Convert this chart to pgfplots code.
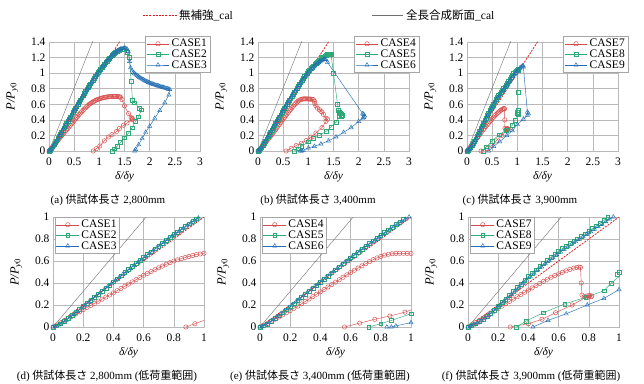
\documentclass[border=0pt]{standalone}
\usepackage{fontspec}
\setmainfont{Liberation Serif}
\newfontfamily\cjk{Noto Sans CJK JP}
\usepackage{pgfplots}
\pgfplotsset{compat=1.18}
\usepackage{pgfplotstable}

\definecolor{cred}{RGB}{215,75,75}
\definecolor{cgreen}{RGB}{45,170,120}
\definecolor{cblue}{RGB}{35,110,180}
\definecolor{refred}{RGB}{220,30,30}
\definecolor{refgray}{RGB}{110,110,110}

\pgfplotstableread{
x y
0 0
0.025 0.018
0.05 0.038
0.075 0.058
0.1 0.078
0.125 0.098
0.15 0.118
0.175 0.138
0.2 0.158
0.225 0.177
0.25 0.196
0.275 0.215
0.3 0.234
0.325 0.253
0.35 0.272
0.375 0.291
0.4 0.310
0.425 0.330
0.45 0.350
0.475 0.370
0.5 0.390
0.525 0.410
0.55 0.430
0.575 0.450
0.6 0.470
0.625 0.487
0.65 0.504
0.675 0.521
0.7 0.538
0.725 0.554
0.75 0.570
0.775 0.585
0.8 0.600
0.825 0.611
0.85 0.622
0.875 0.632
0.9 0.641
0.925 0.650
0.95 0.658
0.975 0.664
1.0 0.670
1.025 0.675
1.05 0.680
1.075 0.684
1.1 0.688
1.125 0.691
1.15 0.694
1.175 0.696
1.2 0.698
1.225 0.700
1.25 0.701
1.275 0.702
1.3 0.702
1.325 0.701
1.35 0.700
1.375 0.699
1.4 0.697
1.42 0.690
1.45 0.660
1.5 0.580
1.58 0.480
1.63 0.430
1.65 0.420
1.66 0.410
1.65 0.400
1.55 0.360
1.48 0.330
1.40 0.290
1.34 0.250
1.25 0.210
1.18 0.180
1.10 0.130
1.01 0.065
0.94 0.030
0.88 0.0
}\tA

\pgfplotstableread{
x y
0 0
0.025 0.012
0.05 0.030
0.075 0.055
0.1 0.080
0.125 0.105
0.15 0.133
0.175 0.160
0.2 0.188
0.225 0.215
0.25 0.243
0.275 0.271
0.3 0.299
0.325 0.327
0.35 0.355
0.375 0.383
0.4 0.411
0.425 0.439
0.45 0.467
0.475 0.495
0.5 0.523
0.525 0.550
0.55 0.578
0.575 0.605
0.6 0.632
0.625 0.659
0.65 0.685
0.675 0.711
0.7 0.737
0.725 0.763
0.75 0.789
0.775 0.815
0.8 0.840
0.825 0.865
0.85 0.890
0.875 0.914
0.9 0.938
0.925 0.962
0.95 0.985
0.975 1.008
1.0 1.030
1.025 1.052
1.05 1.074
1.075 1.095
1.1 1.116
1.125 1.136
1.15 1.156
1.175 1.175
1.2 1.193
1.225 1.210
1.25 1.226
1.275 1.241
1.3 1.255
1.325 1.268
1.35 1.279
1.375 1.289
1.4 1.297
1.425 1.303
1.45 1.307
1.5 1.300
1.55 1.270
1.6 1.200
1.63 0.900
1.66 0.650
1.7 0.620
1.8 0.550
1.84 0.530
1.78 0.440
1.72 0.380
1.65 0.300
1.58 0.230
1.5 0.170
1.42 0.110
1.35 0.060
1.3 0.030
1.25 0.0
}\tB

\pgfplotstableread{
x y
0 0
0.0125 0.005
0.0375 0.018
0.0625 0.038
0.0875 0.062
0.1125 0.088
0.1375 0.114
0.1625 0.142
0.1875 0.170
0.2125 0.198
0.2375 0.226
0.2625 0.254
0.2875 0.282
0.3125 0.310
0.3375 0.338
0.3625 0.366
0.3875 0.394
0.4125 0.422
0.4375 0.450
0.4625 0.478
0.4875 0.506
0.5125 0.533
0.5375 0.560
0.5625 0.587
0.5875 0.614
0.6125 0.641
0.6375 0.668
0.6625 0.694
0.6875 0.720
0.7125 0.746
0.7375 0.772
0.7625 0.797
0.7875 0.822
0.8125 0.847
0.8375 0.872
0.8625 0.897
0.8875 0.921
0.9125 0.945
0.9375 0.968
0.9625 0.991
0.9875 1.014
1.0125 1.036
1.05 1.069
1.075 1.090
1.1 1.111
1.125 1.132
1.15 1.152
1.175 1.171
1.2 1.190
1.225 1.208
1.25 1.225
1.275 1.241
1.3 1.256
1.325 1.270
1.35 1.283
1.375 1.294
1.4 1.303
1.425 1.310
1.45 1.315
1.475 1.318
1.5 1.320
1.525 1.318
1.55 1.310
1.575 1.280
1.6 1.150
1.62 1.070
1.65 1.030
1.675 1.010
1.7 0.995
1.725 0.982
1.75 0.970
1.775 0.957
1.8 0.945
1.825 0.935
1.85 0.925
1.875 0.915
1.9 0.906
1.925 0.898
1.95 0.890
1.975 0.882
2.0 0.875
2.025 0.868
2.05 0.862
2.075 0.856
2.1 0.850
2.125 0.845
2.15 0.840
2.175 0.835
2.2 0.830
2.225 0.825
2.25 0.820
2.275 0.815
2.3 0.810
2.325 0.805
2.35 0.800
2.375 0.795
2.4 0.790
2.38 0.720
2.3 0.620
2.2 0.520
2.1 0.420
2.0 0.320
1.92 0.240
1.85 0.160
1.78 0.080
1.72 0.020
1.7 0.0
}\tC

\pgfplotstableread{
x y
0 0
0.025 0.015
0.05 0.033
0.075 0.052
0.1 0.071
0.125 0.090
0.15 0.110
0.175 0.130
0.2 0.150
0.225 0.170
0.25 0.190
0.275 0.210
0.3 0.232
0.325 0.254
0.35 0.276
0.375 0.298
0.4 0.320
0.425 0.342
0.45 0.364
0.475 0.386
0.5 0.408
0.525 0.430
0.55 0.452
0.575 0.474
0.6 0.495
0.625 0.516
0.65 0.536
0.675 0.556
0.7 0.575
0.725 0.594
0.75 0.612
0.775 0.628
0.8 0.642
0.825 0.653
0.85 0.661
0.875 0.666
0.9 0.669
0.925 0.670
0.95 0.670
0.975 0.669
1.0 0.668
1.025 0.667
1.05 0.666
1.075 0.664
1.1 0.660
1.12 0.640
1.13 0.610
1.15 0.580
1.18 0.550
1.22 0.530
1.25 0.510
1.27 0.500
1.3 0.470
1.35 0.420
1.38 0.410
1.35 0.380
1.27 0.300
1.15 0.230
1.05 0.180
0.96 0.135
0.86 0.100
0.76 0.070
0.66 0.035
0.56 0.0
}\tD

\pgfplotstableread{
x y
0 0
0.025 0.011
0.05 0.028
0.075 0.052
0.1 0.077
0.125 0.103
0.15 0.130
0.175 0.157
0.2 0.184
0.225 0.212
0.25 0.240
0.275 0.268
0.3 0.297
0.325 0.325
0.35 0.353
0.375 0.381
0.4 0.409
0.425 0.437
0.45 0.465
0.475 0.493
0.5 0.521
0.525 0.548
0.55 0.575
0.575 0.602
0.6 0.629
0.625 0.655
0.65 0.681
0.675 0.707
0.7 0.733
0.725 0.759
0.75 0.784
0.775 0.809
0.8 0.834
0.825 0.859
0.85 0.884
0.875 0.908
0.9 0.932
0.925 0.956
0.95 0.979
0.975 1.002
1.0 1.022
1.025 1.041
1.05 1.059
1.075 1.077
1.1 1.094
1.125 1.111
1.15 1.127
1.175 1.143
1.2 1.158
1.225 1.173
1.25 1.187
1.275 1.200
1.3 1.212
1.325 1.223
1.35 1.233
1.375 1.241
1.4 1.246
1.42 1.248
1.44 1.245
1.45 1.240
1.5 1.000
1.58 0.600
1.6 0.520
1.62 0.500
1.64 0.490
1.66 0.480
1.67 0.460
1.65 0.450
1.62 0.440
1.55 0.370
1.45 0.310
1.35 0.250
1.22 0.200
1.1 0.160
1.0 0.120
0.87 0.060
0.8 0.030
0.72 0.0
}\tE

\pgfplotstableread{
x y
0 0
0.0125 0.006
0.0375 0.021
0.0625 0.042
0.0875 0.066
0.1125 0.092
0.1375 0.118
0.1625 0.145
0.1875 0.172
0.2125 0.200
0.2375 0.228
0.2625 0.256
0.2875 0.284
0.3125 0.312
0.3375 0.340
0.3625 0.368
0.3875 0.396
0.4125 0.424
0.4375 0.452
0.4625 0.480
0.4875 0.507
0.5125 0.534
0.5375 0.561
0.5625 0.588
0.5875 0.615
0.6125 0.641
0.6375 0.667
0.6625 0.692
0.6875 0.717
0.7125 0.742
0.7375 0.767
0.7625 0.792
0.7875 0.817
0.8125 0.841
0.8375 0.865
0.8625 0.888
0.8875 0.911
0.9125 0.934
0.9375 0.957
0.9625 0.979
0.9875 1.000
1.0125 1.019
1.05 1.045
1.075 1.062
1.1 1.078
1.125 1.093
1.15 1.107
1.175 1.121
1.2 1.134
1.225 1.146
1.25 1.157
1.275 1.167
1.3 1.175
1.325 1.180
1.35 1.176
1.38 1.140
2.08 0.480
2.1 0.470
2.12 0.450
2.1 0.430
2.08 0.420
2.0 0.380
1.85 0.300
1.7 0.240
1.55 0.180
1.4 0.130
1.25 0.090
1.12 0.060
1.0 0.040
0.9 0.010
0.87 0.0
0.84 0.0
}\tF

\pgfplotstableread{
x y
0 0
0.025 0.020
0.05 0.040
0.075 0.060
0.1 0.080
0.125 0.102
0.15 0.124
0.175 0.146
0.2 0.168
0.225 0.190
0.25 0.212
0.275 0.233
0.3 0.254
0.325 0.275
0.35 0.296
0.375 0.316
0.4 0.336
0.425 0.356
0.45 0.376
0.475 0.396
0.5 0.415
0.525 0.434
0.55 0.452
0.575 0.468
0.6 0.483
0.625 0.497
0.65 0.511
0.675 0.524
0.7 0.535
0.72 0.542
0.735 0.545
0.745 0.542
0.75 0.400
0.755 0.290
0.77 0.275
0.785 0.272
0.8 0.272
0.815 0.275
0.82 0.282
0.805 0.287
0.79 0.283
0.78 0.270
0.69 0.200
0.58 0.130
0.49 0.070
0.4 0.030
0.28 0.0
}\tG

\pgfplotstableread{
x y
0 0
0.025 0.013
0.05 0.030
0.075 0.050
0.1 0.072
0.125 0.097
0.15 0.125
0.175 0.155
0.2 0.188
0.225 0.222
0.25 0.256
0.275 0.290
0.3 0.324
0.325 0.358
0.35 0.392
0.375 0.426
0.4 0.460
0.425 0.490
0.45 0.520
0.475 0.550
0.5 0.578
0.525 0.606
0.55 0.634
0.575 0.662
0.6 0.690
0.625 0.713
0.65 0.736
0.675 0.758
0.7 0.780
0.725 0.802
0.75 0.825
0.775 0.848
0.8 0.870
0.825 0.895
0.85 0.920
0.875 0.945
0.9 0.970
0.925 0.995
0.95 1.015
0.975 1.030
1.0 1.045
1.02 1.050
1.01 1.030
1.01 0.750
1.01 0.520
1.0 0.500
0.99 0.480
1.01 0.470
0.95 0.400
0.9 0.330
0.78 0.270
0.64 0.210
0.5 0.130
0.385 0.055
0.32 0.0
}\tH

\pgfplotstableread{
x y
0 0
0.0125 0.005
0.0375 0.019
0.0625 0.037
0.0875 0.058
0.1125 0.082
0.1375 0.108
0.1625 0.136
0.1875 0.166
0.2125 0.198
0.2375 0.231
0.2625 0.264
0.2875 0.297
0.3125 0.330
0.3375 0.363
0.3625 0.395
0.3875 0.427
0.4125 0.458
0.4375 0.488
0.4625 0.518
0.4875 0.547
0.5125 0.575
0.5375 0.603
0.5625 0.631
0.5875 0.658
0.6125 0.683
0.6375 0.707
0.6625 0.731
0.6875 0.754
0.7125 0.777
0.7375 0.799
0.7625 0.821
0.7875 0.843
0.8125 0.866
0.8375 0.889
0.8625 0.912
0.8875 0.935
0.9125 0.957
0.9375 0.979
0.9625 1.000
0.9875 1.020
1.0125 1.039
1.05 1.065
1.075 1.080
1.1 1.092
1.115 1.095
1.12 1.080
1.2 0.500
1.22 0.480
1.2 0.460
1.12 0.410
1.0 0.340
0.9 0.260
0.79 0.200
0.65 0.120
0.53 0.060
0.43 0.0
}\tI

\pgfplotsset{
 base/.style={scale only axis, width=151pt,
  grid=major, major grid style={gray!55, line width=0.5pt},
  axis line style={gray!55},
  major tick length=0pt,
  tick label style={font=\fontsize{11.5}{13}\selectfont},
  xticklabel style={yshift=-3pt},
  /pgf/number format/assume math mode=true,
  xlabel style={font=\fontsize{11.5}{13}\selectfont, yshift=1pt},
  ylabel style={font=\fontsize{12.5}{14}\selectfont, yshift=6pt},
  xlabel={\textit{δ/δy}},
  ylabel={\textit{P/P}\textsubscript{\textit{y}0}},
  legend cell align=left,
  legend style={font=\fontsize{11.5}{11.5}\selectfont, draw=gray!70, fill=white,
    inner sep=1pt, row sep=-2.5pt},
  legend image code/.code={\draw[mark repeat=2,mark phase=2] plot coordinates {(0cm,0cm)(0.4cm,0cm)(0.8cm,0cm)};},
 },
 topax/.style={base, height=109pt, xmin=0, xmax=3, ymin=0, ymax=1.4,
  xtick={0,0.5,1,1.5,2,2.5,3}, ytick={0,0.2,0.4,0.6,0.8,1,1.2,1.4},
  legend style={at={(1.066,1.055)}, anchor=north east}},
 botax/.style={base, height=110pt, xmin=0, xmax=1, ymin=0, ymax=1,
  xtick={0,0.2,0.4,0.6,0.8,1}, ytick={0,0.2,0.4,0.6,0.8,1},
  legend style={at={(0.013,1)}, anchor=north west}},
 c1/.style={cred, mark=o, mark size=2.2pt, line width=0.45pt},
 c2/.style={cgreen, mark=square, mark size=1.9pt, line width=0.45pt},
 c3/.style={cblue, mark=triangle, mark size=2.4pt, line width=0.45pt},
 refA/.style={refred, dash pattern=on 2pt off 1.2pt, line width=0.8pt, forget plot, mark=none},
 refB/.style={refgray, line width=0.4pt, forget plot, mark=none},
}

\begin{document}
\begin{tikzpicture}
\useasboundingbox (0,0) rectangle (644pt,383pt);

% (a)
\begin{axis}[topax, at={(49pt,232pt)}, anchor=south west]
\addplot[c1] table {\tA};
\addplot[c2] table {\tB};
\addplot[c3] table {\tC};
\addplot[refB] coordinates {(0,0) (0.926,1.5)};
\addplot[refA] coordinates {(0,0) (1.5,1.5)};
\legend{CASE1,CASE2,CASE3}
\end{axis}

% (b)
\begin{axis}[topax, at={(258pt,232pt)}, anchor=south west]
\addplot[c1] table {\tD};
\addplot[c2] table {\tE};
\addplot[c3] table {\tF};
\addplot[refB] coordinates {(0,0) (0.926,1.5)};
\addplot[refA] coordinates {(0,0) (1.5,1.5)};
\legend{CASE4,CASE5,CASE6}
\end{axis}

% (c)
\begin{axis}[topax, at={(467pt,232pt)}, anchor=south west]
\addplot[c1] table {\tG};
\addplot[c2] table {\tH};
\addplot[c3] table {\tI};
\addplot[refB] coordinates {(0,0) (0.926,1.5)};
\addplot[refA] coordinates {(0,0) (1.5,1.5)};
\legend{CASE7,CASE8,CASE9}
\end{axis}

% (d)
\begin{axis}[botax, at={(53pt,56pt)}, anchor=south west]
\addplot[c1] table {\tA};
\addplot[c2] table {\tB};
\addplot[c3] table {\tC};
\addplot[refB] coordinates {(0,0) (0.648,1.05)};
\addplot[refA] coordinates {(0,0) (1.05,1.05)};
\legend{CASE1,CASE2,CASE3}
\end{axis}

% (e)
\begin{axis}[botax, at={(260pt,56pt)}, anchor=south west]
\addplot[c1] table {\tD};
\addplot[c2] table {\tE};
\addplot[c3] table {\tF};
\addplot[refB] coordinates {(0,0) (0.648,1.05)};
\addplot[refA] coordinates {(0,0) (1.05,1.05)};
\legend{CASE4,CASE5,CASE6}
\end{axis}

% (f)
\begin{axis}[botax, at={(468pt,56pt)}, anchor=south west]
\addplot[c1] table {\tG};
\addplot[c2] table {\tH};
\addplot[c3] table {\tI};
\addplot[refB] coordinates {(0,0) (0.648,1.05)};
\addplot[refA] coordinates {(0,0) (1.05,1.05)};
\legend{CASE7,CASE8,CASE9}
\end{axis}

% global legend
\draw[refred, dash pattern=on 2pt off 1.2pt, line width=0.8pt] (143pt,368pt) -- (177pt,368pt);
\node[anchor=west, inner sep=1pt, font=\fontsize{11.5}{13}\selectfont] at (178pt,368pt) {{\cjk 無補強}\_cal};
\draw[refgray, line width=0.4pt] (372pt,368pt) -- (403pt,368pt);
\node[anchor=west, inner sep=1pt, font=\fontsize{11.5}{13}\selectfont] at (405pt,368pt) {{\cjk 全長合成断面}\_cal};

% captions
\begin{scope}[every node/.style={font=\fontsize{11}{13}\selectfont, inner sep=0pt}]
\node at (108pt,183pt) {(a) {\cjk 供試体長さ} 2,800mm};
\node at (318pt,183pt) {(b) {\cjk 供試体長さ} 3,400mm};
\node at (520pt,183pt) {(c) {\cjk 供試体長さ} 3,900mm};
\node at (107pt,7pt) {(d) {\cjk 供試体長さ} 2,800mm ({\cjk 低荷重範囲})};
\node at (320pt,7pt) {(e) {\cjk 供試体長さ} 3,400mm ({\cjk 低荷重範囲})};
\node at (531pt,7pt) {(f) {\cjk 供試体長さ} 3,900mm ({\cjk 低荷重範囲})};
\end{scope}
\end{tikzpicture}
\end{document}
